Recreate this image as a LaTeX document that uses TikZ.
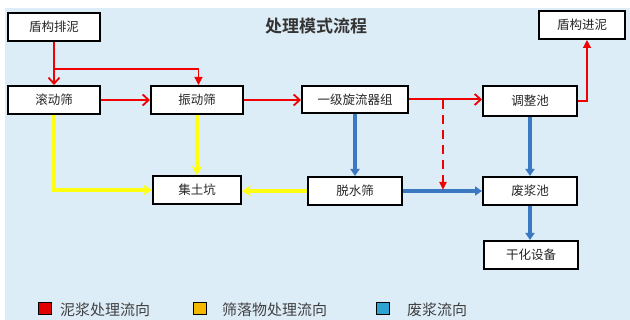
\documentclass[tikz,border=0pt]{standalone}
\usepackage{fontspec}
\usetikzlibrary{arrows.meta}
\newfontfamily\cjk{Noto Sans CJK SC}[BoldFont={Noto Sans CJK SC Bold}]
\definecolor{bgblue}{HTML}{DDEDF7}
\definecolor{redline}{HTML}{F00000}
\definecolor{yelline}{HTML}{FFFF10}
\definecolor{blueline}{HTML}{3A78C2}
\definecolor{legred}{HTML}{E00000}
\definecolor{legor}{HTML}{F5B800}
\definecolor{legblue}{HTML}{2EA3D2}
\definecolor{txtgray}{HTML}{404040}
\tikzset{
  box/.style={draw=black, line width=2pt, fill=white, inner sep=0pt,
    minimum height=#1, font=\cjk\fontsize{12.5}{14}\selectfont, text=black!85},
  redm/.style={draw=redline, line width=2pt, -{Straight Barb[length=6pt,width=11pt,line width=1.8pt]}},
  redthin/.style={draw=redline, line width=1.2pt, -{Triangle[length=8pt,width=8pt]}},
  reddash/.style={draw=redline, line width=2pt, dash pattern=on 9pt off 6pt, -{Triangle[length=8pt,width=7pt]}},
  yel/.style={draw=yelline, line width=3.6pt, -{Stealth[length=9pt,width=11pt,inset=3pt]}},
  blu/.style={draw=blueline, line width=3.2pt, -{Triangle[length=7pt,width=9pt]}},
  legsq/.style={draw=black, line width=1pt, minimum width=13pt, minimum height=12pt, inner sep=0pt},
  legtxt/.style={anchor=west, inner sep=0pt, font=\cjk\fontsize{15}{16}\selectfont, text=txtgray},
}
\begin{document}
\begin{tikzpicture}[x=1pt, y=-1pt]
\useasboundingbox (0,0) rectangle (630,320);
\fill[white] (0,0) rectangle (630,320);
\fill[bgblue] (5,8) rectangle (630,320);
% title
\node[font=\cjk\bfseries\fontsize{17}{18}\selectfont, text=black!80] (title) at (316,26) {处理模式流程};
% boxes
\node[box=28pt, minimum width=92pt] (pn) at (54,27) {盾构排泥};
\node[box=28pt, minimum width=86pt] (jn) at (582,25) {盾构进泥};
\node[box=28pt, minimum width=92pt] (gd) at (54,100) {滚动筛};
\node[box=28pt, minimum width=92pt] (zd) at (197,100) {振动筛};
\node[box=27pt, minimum width=106pt] (xl) at (355,99.5) {一级旋流器组};
\node[box=30pt, minimum width=94pt] (tz) at (530,101) {调整池};
\node[box=28pt, minimum width=88pt] (jt) at (197,190) {集土坑};
\node[box=28pt, minimum width=94pt] (ts) at (355,191) {脱水筛};
\node[box=28pt, minimum width=94pt] (fj) at (530,191) {废浆池};
\node[box=28pt, minimum width=94pt] (gh) at (531,255) {干化设备};
% coordinates
\coordinate (br) at (54,69);
\coordinate (d1) at (443,100);
\coordinate (d2) at (443,190);
% yellow
\draw[yel] (gd.south) |- (jt.west);
\draw[yel] (zd.south) -- (jt.north);
\draw[yel] (ts.west) -- (ts.west -| jt.east);
% blue
\draw[blu] (xl.south) -- (xl.south |- ts.north);
\draw[blu] (tz.south) -- (fj.north);
\draw[blu] (ts.east) -- (fj.west);
\draw[blu] (fj.south) -- (fj.south |- gh.north);
% red
\draw[redm] (pn.south) -- (pn.south |- gd.north);
\draw[redthin] (br) -| ([xshift=1.5pt]zd.north);
\draw[redm] (gd.east) -- (zd.west);
\draw[redm] (zd.east) -- (zd.east -| xl.west);
\draw[redm] (xl.east) -- (xl.east -| tz.west);
\draw[reddash] (d1) -- (d2);
\draw[redthin] (tz.east) -| ([xshift=5pt]jn.south);
% legend
\node[legsq, fill=legred] (l1) at (44.5,309) {};
\node[legtxt] (t1) at (60,310) {泥浆处理流向};
\node[legsq, fill=legor] (l2) at (200,309) {};
\node[legtxt] (t2) at (222,310) {筛落物处理流向};
\node[legsq, fill=legblue] (l3) at (383,309) {};
\node[legtxt] (t3) at (407,310) {废浆流向};
\end{tikzpicture}
\end{document}
